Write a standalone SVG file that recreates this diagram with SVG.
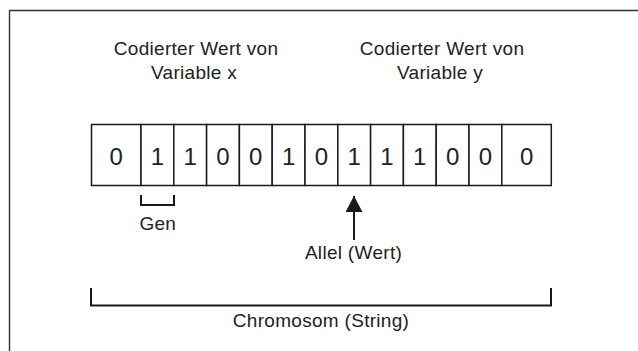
<svg xmlns="http://www.w3.org/2000/svg" width="638" height="351" viewBox="0 0 638 351">
  <style>
    .lbl { font-family: "Liberation Sans", Arial, sans-serif; font-size: 19px; letter-spacing: 0.3px; fill: #222; text-anchor: middle; }
    .bit { font-family: "Liberation Sans", Arial, sans-serif; font-size: 24px; fill: #222; text-anchor: middle; }
    .cell { fill: #fff; stroke: #1a1a1a; stroke-width: 1.5; }
    .ln { fill: none; stroke: #1a1a1a; stroke-width: 2; }
  </style>
  <defs>
    <marker id="head" viewBox="0 0 10 10" refX="10" refY="5" markerWidth="16" markerHeight="17" markerUnits="userSpaceOnUse" orient="auto" preserveAspectRatio="none">
      <path d="M0,0 L10,5 L0,10 Z" fill="#1a1a1a"/>
    </marker>
  </defs>
  <rect width="638" height="351" fill="#fff"/>
  <!-- outer frame: open towards right and bottom -->
  <path d="M9.5,351 V10.5 H638" fill="none" stroke="#333" stroke-width="1.4"/>

  <g id="label-x">
    <text class="lbl" x="196" y="55">Codierter Wert von</text>
    <text class="lbl" x="194" y="79">Variable x</text>
  </g>
  <g id="label-y">
    <text class="lbl" x="442" y="55">Codierter Wert von</text>
    <text class="lbl" x="440" y="79">Variable y</text>
  </g>

  <g id="chromosome-string">
    <rect class="cell" x="91.5" y="124.5" width="49.5" height="61"/>
    <rect class="cell" x="141" y="124.5" width="32.8" height="61"/>
    <rect class="cell" x="173.8" y="124.5" width="32.8" height="61"/>
    <rect class="cell" x="206.6" y="124.5" width="32.8" height="61"/>
    <rect class="cell" x="239.4" y="124.5" width="32.8" height="61"/>
    <rect class="cell" x="272.2" y="124.5" width="32.8" height="61"/>
    <rect class="cell" x="305" y="124.5" width="32.8" height="61"/>
    <rect class="cell" x="337.8" y="124.5" width="32.8" height="61"/>
    <rect class="cell" x="370.6" y="124.5" width="32.8" height="61"/>
    <rect class="cell" x="403.4" y="124.5" width="32.8" height="61"/>
    <rect class="cell" x="436.2" y="124.5" width="32.8" height="61"/>
    <rect class="cell" x="469" y="124.5" width="32.8" height="61"/>
    <rect class="cell" x="501.8" y="124.5" width="49.5" height="61"/>
    <text class="bit" x="116.3" y="164.5">0</text>
    <text class="bit" x="157.4" y="164.5">1</text>
    <text class="bit" x="190.2" y="164.5">1</text>
    <text class="bit" x="223" y="164.5">0</text>
    <text class="bit" x="255.8" y="164.5">0</text>
    <text class="bit" x="288.6" y="164.5">1</text>
    <text class="bit" x="321.4" y="164.5">0</text>
    <text class="bit" x="354.2" y="164.5">1</text>
    <text class="bit" x="387" y="164.5">1</text>
    <text class="bit" x="419.8" y="164.5">1</text>
    <text class="bit" x="452.6" y="164.5">0</text>
    <text class="bit" x="485.4" y="164.5">0</text>
    <text class="bit" x="526.6" y="164.5">0</text>
  </g>

  <g id="gen">
    <text class="lbl" x="157.8" y="230">Gen</text>
  </g>
  <g id="allel">
    <text class="lbl" x="353.5" y="259">Allel (Wert)</text>
  </g>
  <g id="chromosom">
    <text class="lbl" x="321" y="327">Chromosom (String)</text>
  </g>

  <g id="connectors">
    <!-- gene bracket -->
    <path class="ln" d="M141,195 V205 H174 V195"/>
    <!-- allele pointer -->
    <line class="ln" x1="354" y1="240" x2="354" y2="196" marker-end="url(#head)"/>
    <!-- chromosome bracket -->
    <path class="ln" d="M91,288 V305.5 H551 V288"/>
  </g>
</svg>
